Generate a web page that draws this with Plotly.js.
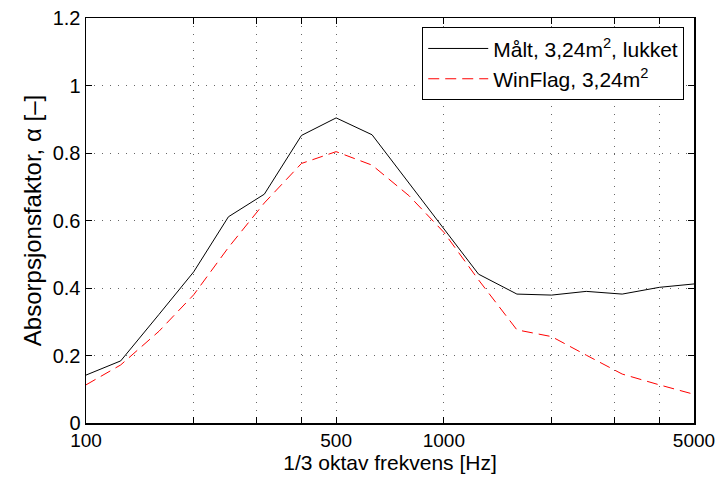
<!DOCTYPE html>
<html>
<head>
<meta charset="utf-8">
<script src="https://cdn.plot.ly/plotly-3.0.1.min.js"></script>
<style>html,body{margin:0;padding:0;background:#fff;}#chart{width:720px;height:484px;}</style>
</head>
<body>
<div id="chart"></div>
<script>
const freqs = [100,125,160,200,250,315,400,500,630,800,1000,1250,1600,2000,2500,3150,4000,5000];
const maalt = [0.142,0.184,0.322,0.448,0.611,0.678,0.852,0.904,0.854,0.71,0.575,0.441,0.382,0.379,0.39,0.382,0.402,0.412];
const winflag = [0.113,0.172,0.272,0.38,0.52,0.652,0.769,0.804,0.764,0.673,0.565,0.424,0.276,0.256,0.201,0.145,0.113,0.085];
const xTickVals = [100,200,300,400,500,1000,2000,3000,4000,5000];
const xTickText = ['100','','','','500','1000','','','','5000'];
const xMajorGrid = [500,1000];
const yTickVals = [0,0.2,0.4,0.6,0.8,1,1.2];
const yTickText = ['0','0.2','0.4','0.6','0.8','1','1.2'];
const seriesNames = ['Målt, 3,24m<sup>2</sup>, lukket','WinFlag, 3,24m<sup>2</sup>'];

const fam = 'Liberation Sans, Arial, Helvetica, sans-serif';
const traces = [
  {x:freqs, y:maalt, type:'scatter', mode:'lines', name:seriesNames[0], line:{color:'#000', width:1}},
  {x:freqs, y:winflag, type:'scatter', mode:'lines', name:seriesNames[1], line:{color:'#ff0000', width:1, dash:'11px,6px'}}
];
const layout = {
  width:720, height:484,
  margin:{l:86, r:26, t:18, b:61},
  paper_bgcolor:'#fff', plot_bgcolor:'#fff',
  font:{family:fam, size:20, color:'#000'},
  showlegend:true,
  legend:{x:0.553, y:0.977, xanchor:'left', yanchor:'top', bordercolor:'#000', borderwidth:1, bgcolor:'#fff',
          font:{family:fam, size:21, color:'#000'}, itemwidth:60, tracegroupgap:0},
  xaxis:{type:'log', range:[2, Math.log10(5000)], tickvals:xTickVals, ticktext:xTickText, ticks:'inside', ticklen:6, tickcolor:'#000',
         showline:true, linecolor:'#000', linewidth:1.5, mirror:'ticks',
         showgrid:true, gridcolor:'#666', griddash:'1px,7px', gridwidth:1,
         zeroline:false, tickfont:{family:fam, size:19}, tickangle:0,
         title:{text:'1/3 oktav frekvens [Hz]', font:{family:fam, size:21}, standoff:5}},
  xaxis2:{type:'log', range:[2, Math.log10(5000)], overlaying:'x', anchor:'y', side:'bottom', tickvals:xMajorGrid,
          showticklabels:false, ticks:'', showline:false, zeroline:false,
          showgrid:true, gridcolor:'#000', griddash:'2px,6px', gridwidth:1},
  yaxis:{range:[0,1.2], tickvals:yTickVals, ticktext:yTickText, ticks:'inside', ticklen:6, tickcolor:'#000',
         showline:true, linecolor:'#000', linewidth:1.5, mirror:'ticks',
         showgrid:true, gridcolor:'#666', griddash:'1px,7px', gridwidth:1,
         zeroline:false, tickfont:{family:fam, size:20},
         title:{text:'Absorpsjonsfaktor, α [–]', font:{family:fam, size:24}, standoff:4}}
};
Plotly.newPlot('chart', traces, layout, {staticPlot:true, displayModeBar:false});
</script>
</body>
</html>
